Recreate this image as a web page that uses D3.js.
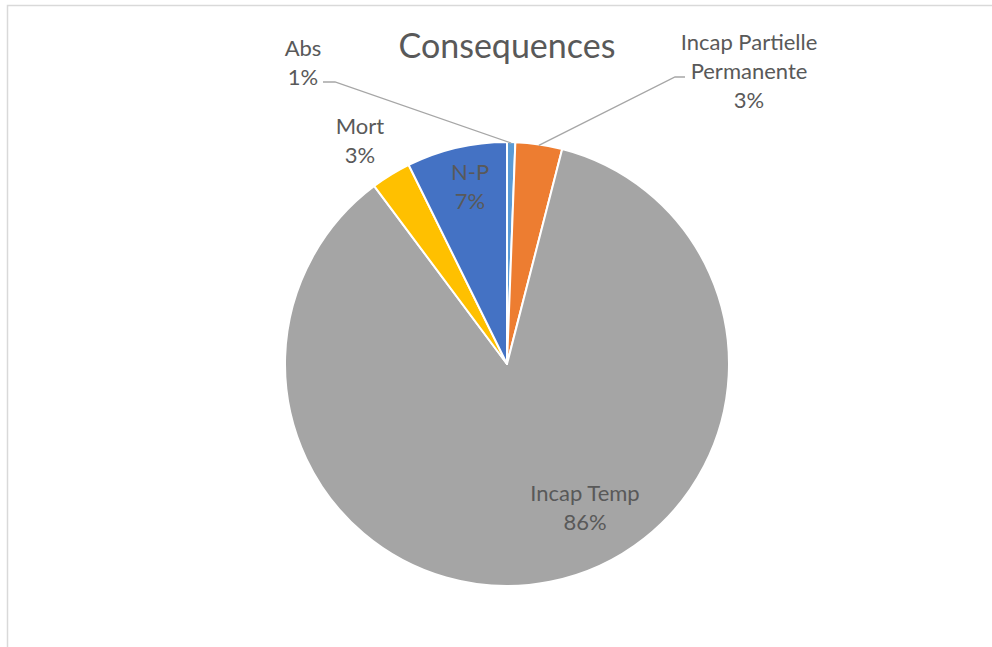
<!DOCTYPE html>
<html><head><meta charset="utf-8">
<script src="https://cdn.jsdelivr.net/npm/d3@7"></script>
<style>body{margin:0;background:#fff}svg{display:block}text{font-family:Lato,"Open Sans",sans-serif}</style>
</head><body>
<svg id="c" width="992" height="647"></svg>
<script>
const categories = ["Abs", "Incap Partielle Permanente", "Incap Temp", "Mort", "N-P"];
const values = [0.6, 3.4, 85.8, 2.9, 7.3];
const colors = ["#5B9BD5", "#ED7D31", "#A5A5A5", "#FFC000", "#4472C4"];
const labelLines = [["Abs"], ["Incap Partielle", "Permanente"], ["Incap Temp"], ["Mort"], ["N-P"]];

// layout (positions only)
const cx = 507, cy = 364, R = 222;
const labelAnchor = [[303, 48], [749, 42], [585, 493], [360, 126], [470, 172]];
const leaders = { 0: [[323, 82], [335, 82]], 1: [[685, 77], [675, 77]] };

const svg = d3.select("#c");
// chart border
svg.append("path").attr("d", "M7.5,647 L7.5,5.5 L992,5.5").attr("fill", "none").attr("stroke", "#d9d9d9").attr("stroke-width", 1.5);

svg.append("text").attr("x", 507).attr("y", 58).attr("text-anchor", "middle")
  .attr("font-size", 34).attr("fill", "#595959").text("Consequences");

const data = categories.map((c, i) => ({ c, v: values[i], i }));
const pie = d3.pie().value(d => d.v).sort(null);
const arcs = pie(data);
const arc = d3.arc().innerRadius(0).outerRadius(R);
const g = svg.append("g").attr("transform", `translate(${cx},${cy})`);
g.selectAll("path").data(arcs).join("path")
  .attr("d", arc).attr("fill", d => colors[d.data.i])
  .attr("stroke", "#fff").attr("stroke-width", 2).attr("stroke-linejoin", "round");

const total = d3.sum(values);
// leader lines
arcs.forEach(a => {
  const L = leaders[a.data.i];
  if (!L) return;
  const mid = (a.startAngle + a.endAngle) / 2;
  const px = cx + (R - 1) * Math.sin(mid), py = cy - (R - 1) * Math.cos(mid);
  svg.append("polyline").attr("points", [L[0], L[1], [px, py]].map(p => p.join(",")).join(" "))
    .attr("fill", "none").attr("stroke", "#a6a6a6").attr("stroke-width", 1.3);
});

arcs.forEach(a => {
  const i = a.data.i;
  const lines = labelLines[i].concat([Math.round(a.data.v / total * 100) + "%"]);
  const t = svg.append("text").attr("text-anchor", "middle").attr("font-size", 22).attr("fill", "#595959");
  lines.forEach((s, k) => t.append("tspan").attr("x", labelAnchor[i][0]).attr("y", labelAnchor[i][1] + 8 + k * 29).text(s));
});
</script>
</body></html>
